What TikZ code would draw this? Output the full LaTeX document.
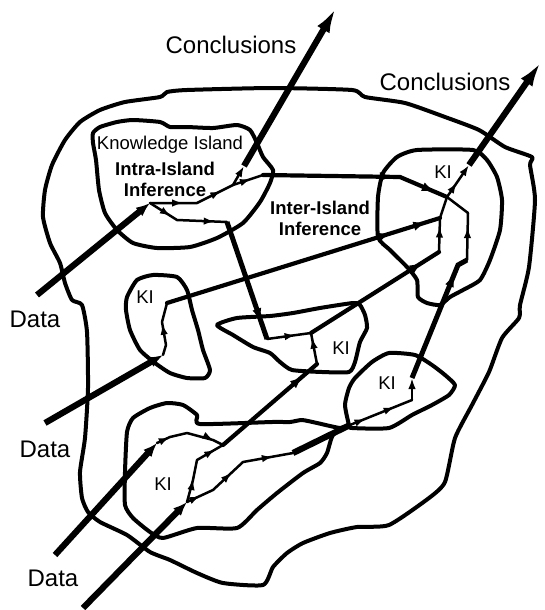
\documentclass[tikz,border=0pt]{standalone}
\usepackage{fontspec}
\setmainfont{Liberation Sans}
\usetikzlibrary{arrows.meta,decorations.markings}
\begin{document}
\begin{tikzpicture}[x=1pt,y=-1pt,
 bnd/.style={line width=4pt,line join=round,line cap=round},
 fine/.style={line width=2.5pt,line join=round,line cap=round},
 med/.style={line width=4.2pt,line join=round,line cap=round},
 heavy/.style={line width=6.2pt,line join=round},
 fa/.style={postaction={decorate,decoration={markings,mark=at position #1 with {\arrow{Latex[length=11pt,width=7.5pt]}}}}},
 ma/.style={postaction={decorate,decoration={markings,mark=at position #1 with {\arrow{Latex[length=13pt,width=9.5pt]}}}}},
 ftip/.style={-{Latex[length=11pt,width=7.5pt]}},
 dtip/.style={-{Latex[length=14pt,width=11pt]}},
 ctip/.style={-{Latex[length=25pt,width=14pt]}},
 big/.style={font=\fontsize{24}{28}\selectfont,inner sep=0pt},
 sml/.style={font=\fontsize{18.5}{21}\selectfont,inner sep=0pt},
 bld/.style={font=\fontsize{18.5}{21}\selectfont\bfseries,inner sep=0pt,align=center},
]
\useasboundingbox (0,0) rectangle (544,610);

% ---------- boundaries ----------
\draw[bnd] plot[smooth cycle,tension=0.35] coordinates {(72,300) (65,283) (60,263) (50,243) (43,217) (45,190) (52,165) (65,140) (80,122) (100,110) (125,102) (160,97) (167,92) (187,90) (272,88) (352,90) (365,97) (405,103) (445,117) (479,130) (505,147) (532,157) (530,165) (535,200) (529,267) (520,305) (519,318) (502,338) (489,372) (472,405) (455,438) (445,482) (429,498) (389,525) (357,527) (330,533) (303,543) (287,553) (273,567) (263,585) (223,583) (197,573) (170,560) (150,552) (127,535) (100,522) (88,512) (82,498) (80,472) (85,438) (88,388) (87,332) (82,305)};
% knowledge island (top left)
\draw[bnd] plot[smooth cycle,tension=0.35] coordinates {(93,133) (100,127) (117,122) (133,120) (160,122) (170,127) (187,127) (213,128) (237,125) (250,130) (257,143) (263,157) (273,170) (270,183) (260,202) (243,223) (217,238) (190,247) (157,248) (133,243) (117,230) (105,213) (99,190) (96,160) (93,143)};
% top right island
\draw[bnd] plot[smooth cycle,tension=0.35] coordinates {(378,237) (378,197) (383,173) (397,157) (417,150) (473,150) (487,160) (497,177) (502,200) (500,230) (490,260) (480,280) (463,290) (450,297) (440,305) (427,303) (418,297) (417,280) (407,267) (390,250)};
% left island
\draw[bnd] plot[smooth cycle,tension=0.35] coordinates {(127,297) (137,280) (153,275) (177,277) (187,290) (192,310) (198,330) (203,350) (210,370) (205,378) (187,378) (170,373) (155,363) (140,350) (130,330) (126,310)};
% middle island
\draw[bnd] plot[smooth cycle,tension=0.35] coordinates {(217,325) (237,318) (270,316) (293,313) (320,308) (353,303) (360,305) (365,315) (367,328) (360,342) (355,362) (349,372) (322,372) (292,370) (280,362) (270,353) (253,347) (233,335)};
% bottom left island
\draw[bnd] plot[smooth cycle,tension=0.35] coordinates {(349,425) (340,428) (317,423) (302,420) (290,422) (272,422) (200,424) (197,415) (183,405) (167,403) (150,408) (133,418) (127,432) (125,472) (125,505) (133,518) (150,532) (163,538) (197,528) (237,528) (257,510) (277,493) (303,473) (320,463) (327,453) (333,435)};
% small right island
\draw[bnd] plot[smooth cycle,tension=0.35] coordinates {(349,425) (345,405) (349,388) (355,378) (372,362) (389,353) (415,355) (432,365) (445,375) (455,385) (449,395) (432,405) (412,415) (389,428) (352,428)};

% ---------- junction points ----------
\coordinate (d1s) at (37,295);
\coordinate (j1) at (150,203);
\coordinate (a1) at (197,203);
\coordinate (a2) at (233,185);
\coordinate (c1b) at (244,166);
\coordinate (c1t) at (336,8);
\coordinate (b1) at (263,175);
\coordinate (b2) at (400,177);
\coordinate (jR) at (447,197);
\coordinate (c2b) at (469,165);
\coordinate (c2t) at (541,62);
\coordinate (l0) at (177,220);
\coordinate (l1) at (227,222);
\coordinate (m1) at (267,339);
\coordinate (m2) at (311,333);
\coordinate (m3) at (317,364);
\coordinate (t1) at (439,252);
\coordinate (q) at (440,218);
\coordinate (r0) at (458,265);
\coordinate (r1) at (467,260);
\coordinate (r2) at (468,213);
\coordinate (s3) at (412,400);
\coordinate (s4) at (412,378);
\coordinate (d2s) at (45,423);
\coordinate (k1) at (163,355);
\coordinate (k3) at (167,303);
\coordinate (d3a) at (55,555);
\coordinate (p1) at (157,443);
\coordinate (p2) at (223,445);
\coordinate (d3b) at (83,608);
\coordinate (p3) at (187,502);
\coordinate (p4) at (197,460);
\coordinate (p5) at (293,453);
\coordinate (s0) at (350,425);

% ---------- inference arrows ----------
\draw[heavy,dtip] (d1s) -- (j1);
\draw[fine,fa=0.38,fa=0.85] (j1) -- (a1) -- (a2);
\draw[fine,ftip] (a2) -- (c1b);
\draw[heavy,ctip] (c1b) -- (c1t);
\draw[fine,fa=0.6] (a2) -- (b1);
\draw[med,ma=0.69,ma=0.93] (b1) -- (b2) -- (jR);
\draw[fine,fa=0.3,fa=0.85] (j1) -- (l0) -- (l1);
\draw[line width=5pt,ma=0.85] (l1) -- (m1);
\draw[fine,fa=0.65] (m1) -- (m2);
\draw[fine,fa=0.85] (m3) -- (m2);
\draw[med,ma=0.87] (m2) -- (t1);
\draw[fine,fa=0.75] (t1) -- (q);
\draw[fine] (q) -- (jR);
\draw[heavy,dtip] (d2s) -- (k1);
\draw[fine,fa=0.6] (k1) -- (166,345) -- (162,322) -- (k3);
\draw[med,ma=0.82,ma=0.95] (k3) -- (q);
\draw[fine,fa=0.45,ftip] (jR) -- (c2b);
\draw[heavy,ctip] (c2b) -- (c2t);
\draw[fine,ftip] (s3) -- (s4);
\draw[line width=5pt,ma=0.85] (s4) -- (r0) -- (r1);
\draw[fine,fa=0.7] (r1) -- (r2);
\draw[fine] (r2) -- (jR);
\draw[heavy,dtip] (d3a) -- (p1);
\draw[fine,fa=0.2,fa=0.85] (p1) -- (170,437) -- (187,433) -- (213,440) -- (p2);
\draw[heavy,dtip] (d3b) -- (p3);
\draw[fine,fa=0.55] (p3) -- (193,480) -- (p4);
\draw[fine,fa=0.7] (p4) -- (p2);
\draw[med,ma=0.85] (p2) -- (m3);
\draw[fine,fa=0.12,fa=0.45,fa=0.83] (p3) -- (213,490) -- (243,462) -- (p5);
\draw[heavy] (p5) -- (s0);
\draw[fine,fa=0.25,fa=0.72] (s0) -- (s3);

% ---------- labels ----------
\node[big] (concl1) at (231,45) {Conclusions};
\node[big] (concl2) at (445,82) {Conclusions};
\node[sml] (kisl) at (170,145) {Knowledge Island};
\node[bld] (intra) at (165,179) {Intra-Island\\Inference};
\node[bld] (inter) at (320,218) {Inter-Island\\Inference};
\node[sml] (ki1) at (443,172) {KI};
\node[sml] (ki2) at (145,297) {KI};
\node[sml] (ki3) at (341,348) {KI};
\node[sml] (ki4) at (387,383) {KI};
\node[sml] (ki5) at (163,484) {KI};
\node[big] (data1) at (35,319) {Data};
\node[big] (data2) at (45,449) {Data};
\node[big] (data3) at (53,578) {Data};
\end{tikzpicture}
\end{document}
